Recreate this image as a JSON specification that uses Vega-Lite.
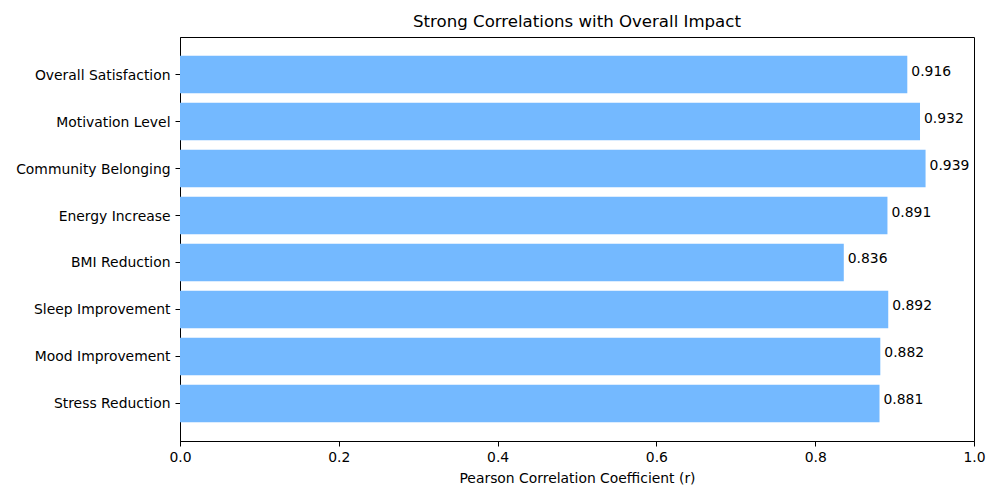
{
  "$schema": "https://vega.github.io/schema/vega-lite/v6.json",
  "width": 794,
  "height": 404,
  "autosize": {"type": "none"},
  "padding": {"left": 180, "top": 37, "right": 26, "bottom": 59},
  "background": "white",
  "title": {"text": "Strong Correlations with Overall Impact", "font": "DejaVu Sans", "fontSize": 16.6, "fontWeight": "normal", "color": "black", "offset": 6, "anchor": "middle"},
  "config": {
    "view": {"stroke": "black", "strokeWidth": 1},
    "axis": {"labelFont": "DejaVu Sans", "titleFont": "DejaVu Sans", "labelFontSize": 13.9, "titleFontSize": 13.9, "titleFontWeight": "normal", "labelColor": "black", "titleColor": "black", "tickColor": "black", "domainColor": "black", "grid": false, "tickSize": 5, "labelPadding": 4, "labelFlush": false}
  },
  "data": {"values": [
    {"metric": "Overall Satisfaction", "r": 0.916},
    {"metric": "Motivation Level", "r": 0.932},
    {"metric": "Community Belonging", "r": 0.939},
    {"metric": "Energy Increase", "r": 0.891},
    {"metric": "BMI Reduction", "r": 0.836},
    {"metric": "Sleep Improvement", "r": 0.892},
    {"metric": "Mood Improvement", "r": 0.882},
    {"metric": "Stress Reduction", "r": 0.881}
  ]},
  "encoding": {
    "y": {"field": "metric", "type": "nominal", "sort": null, "title": null,
      "scale": {"paddingInner": 0.2, "paddingOuter": 0.4},
      "axis": {"labelPadding": 5, "labelOffset": 1}},
    "x": {"field": "r", "type": "quantitative", "title": "Pearson Correlation Coefficient (r)",
      "scale": {"domain": [0, 1], "nice": false, "zero": true},
      "axis": {"values": [0, 0.2, 0.4, 0.6, 0.8, 1.0], "format": ".1f", "titlePadding": 8}}
  },
  "layer": [
    {"mark": {"type": "bar", "color": "#74b9ff"}},
    {"mark": {"type": "text", "align": "left", "baseline": "middle", "dx": 4, "dy": -3, "font": "DejaVu Sans", "fontSize": 13.9, "color": "black"},
      "encoding": {"text": {"field": "r", "type": "quantitative", "format": ".3f"}}}
  ]
}
